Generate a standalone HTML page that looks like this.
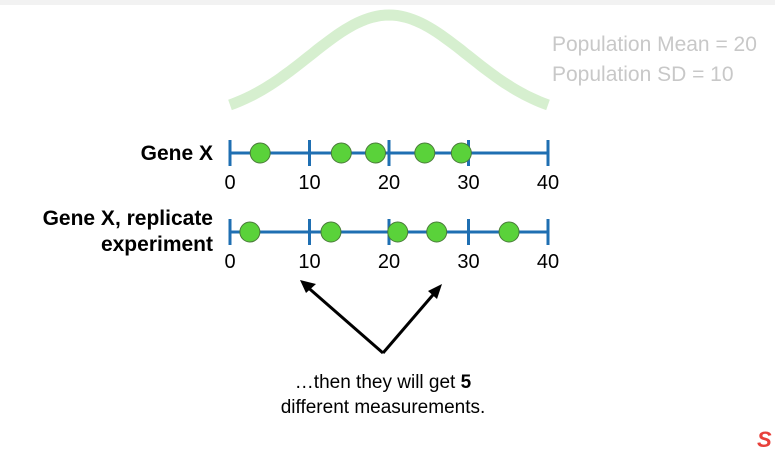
<!DOCTYPE html>
<html><head><meta charset="utf-8"><style>
body{margin:0;width:775px;height:449px;background:#fff;overflow:hidden;font-family:"Liberation Sans",Arial,sans-serif}
</style></head><body>
<svg width="775" height="449" viewBox="0 0 775 449" id="svg">
<rect x="0" y="0" width="775" height="5" fill="#f2f2f2"/>
<path id="bell" fill="none" stroke="#d6efcf" stroke-width="11"/>
<text x="552" y="51" font-size="21" fill="#c8c8c8">Population Mean = 20</text>
<text x="552" y="81" font-size="21" fill="#c8c8c8">Population SD = 10</text>
<text x="213" y="160" font-size="21" font-weight="bold" text-anchor="end">Gene X</text>
<text x="213" y="225" font-size="21" font-weight="bold" text-anchor="end">Gene X, replicate</text>
<text x="213" y="251" font-size="21" font-weight="bold" text-anchor="end">experiment</text>
<g id="axes"></g>
<g stroke="#000" stroke-width="3" fill="none">
<line x1="383" y1="353" x2="304" y2="284"/><line x1="383" y1="353" x2="438" y2="289"/>
</g>
<polygon points="300,280 316,284 306,293" fill="#000"/>
<polygon points="442,284 437,299 428,291" fill="#000"/>
<text x="383" y="388" font-size="19" text-anchor="middle">…then they will get <tspan font-weight="bold">5</tspan></text>
<text x="383" y="413" font-size="19" text-anchor="middle">different measurements.</text>
<text x="757" y="447" font-size="22" font-weight="bold" font-style="italic" fill="#e8403a">S</text>
</svg>
<script>
const ticks=[0,10,20,30,40];
const row1=[3.8,14,18.3,24.5,29.1];
const row2=[2.5,12.7,21.1,26,35.1];
const mean=20, sd=10;
const NS="http://www.w3.org/2000/svg";
const x=v=>230+v*7.95;
function mk(t,a){const e=document.createElementNS(NS,t);for(const k in a)e.setAttribute(k,a[k]);return e;}
let d="";
for(let v=0;v<=40;v+=0.5){const y=119-104*Math.exp(-((v-mean)**2)/(2*sd*sd));d+=(v?"L":"M")+x(v).toFixed(1)+","+y.toFixed(1);}
document.getElementById('bell').setAttribute('d',d);
const g=document.getElementById('axes');
[[153,row1],[232,row2]].forEach(([cy,vals],ri)=>{
  const ln=mk('line',{x1:x(0),x2:x(40),y1:cy,y2:cy,stroke:'#1f6fb2','stroke-width':3});
  
  
  g.appendChild(ln);
  ticks.forEach(t=>{
    const tk=mk('line',{x1:x(t),x2:x(t),y1:cy-13,y2:cy+13,stroke:'#1f6fb2','stroke-width':3});
    
    
    g.appendChild(tk);
    const tl=mk('text',{x:x(t),y:cy+36,'font-size':20,'text-anchor':'middle'});
    tl.textContent=t;
    
    
    g.appendChild(tl);
  });
  vals.forEach(v=>{
    const c=mk('circle',{cx:x(v),cy:cy,r:10,fill:'#5ad23a',stroke:'#4a7a3a','stroke-width':1});
    
    
    g.appendChild(c);
  });
});
</script>
</body></html>
